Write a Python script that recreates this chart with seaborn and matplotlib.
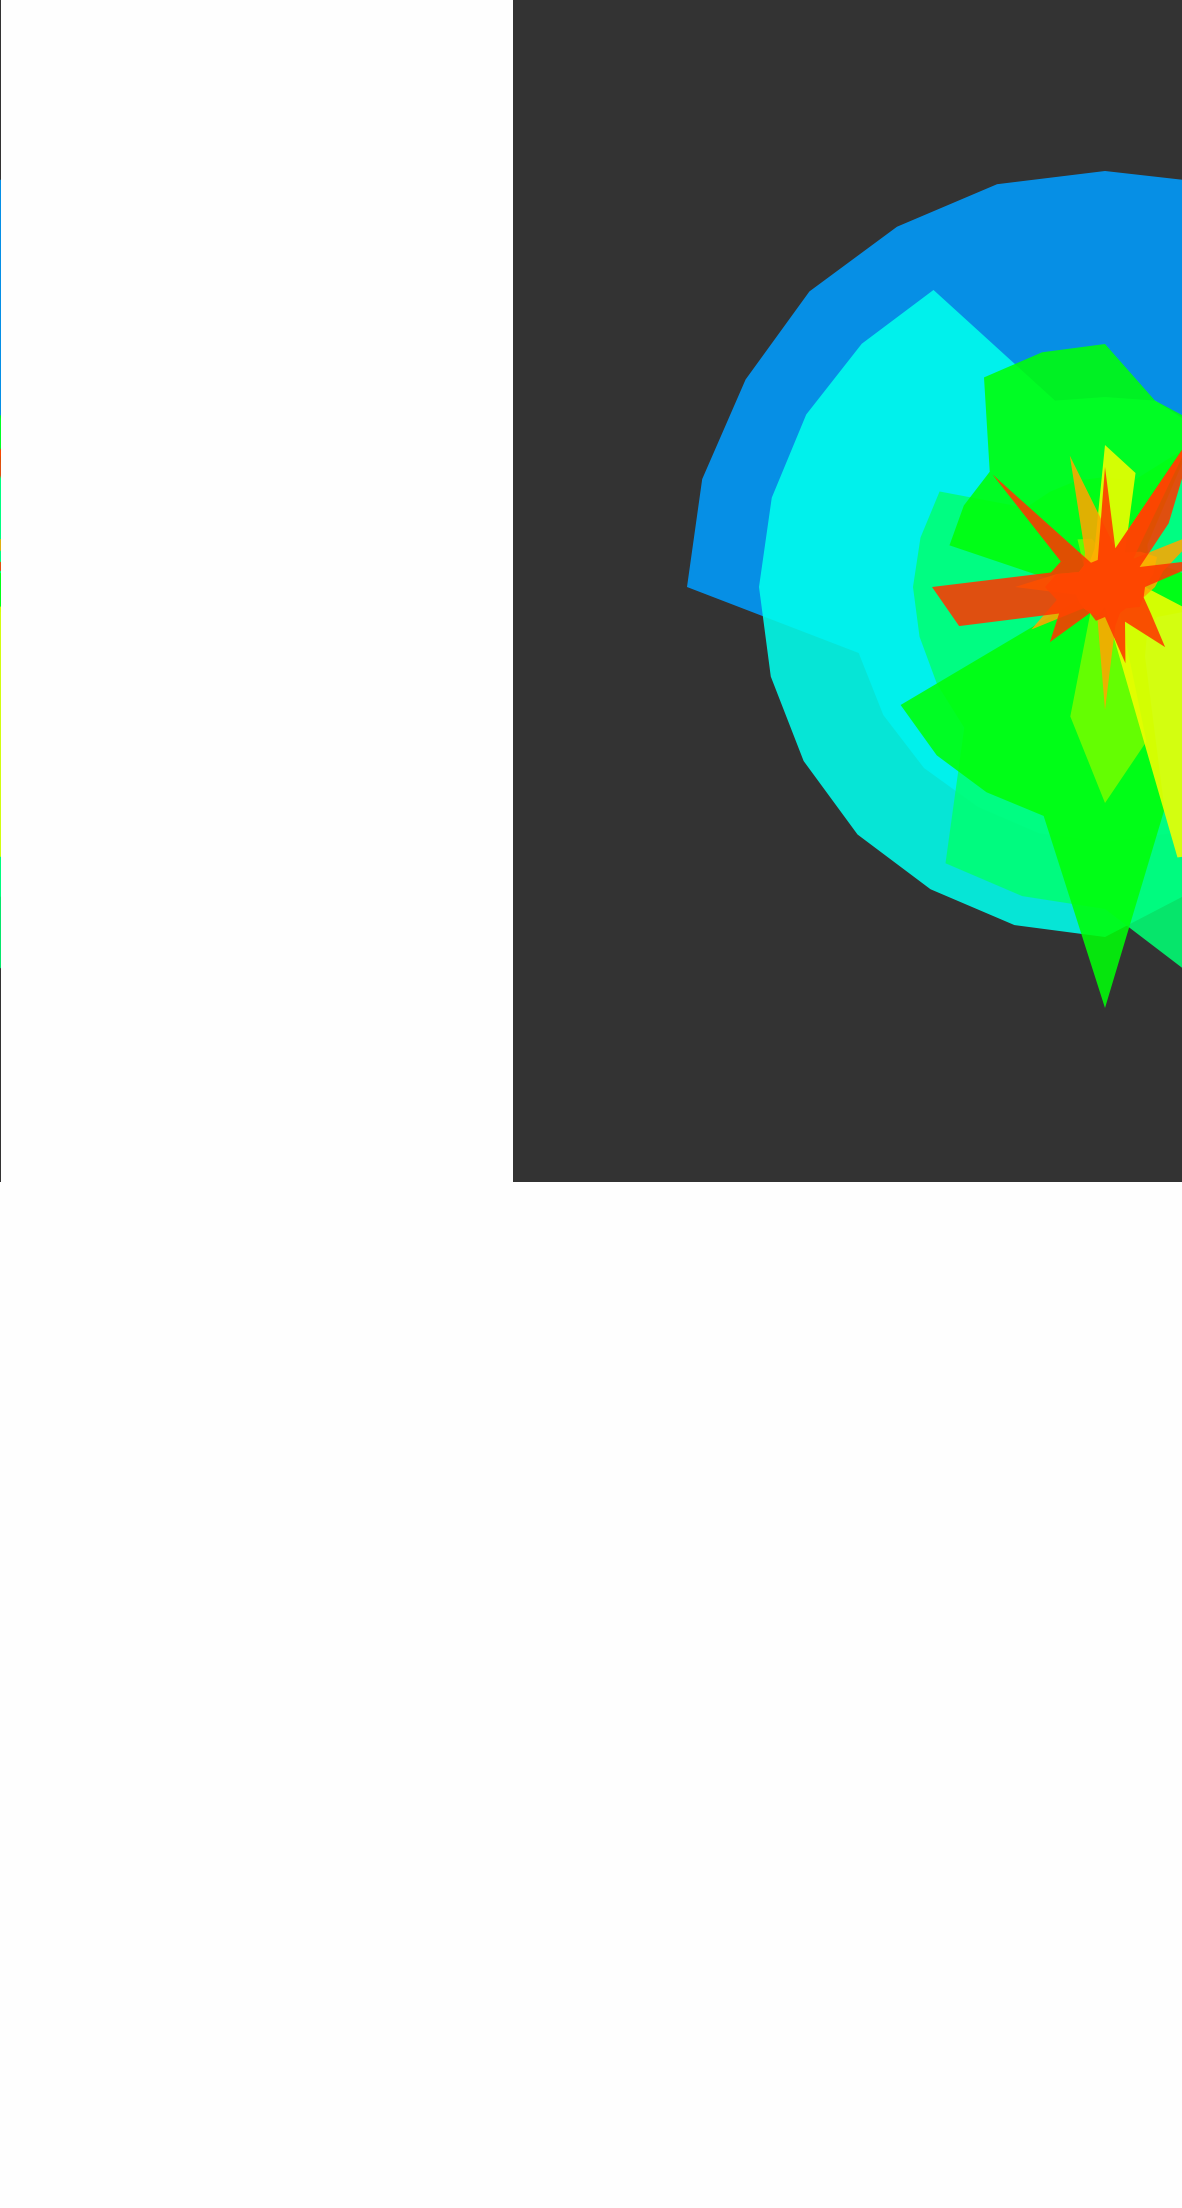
import colorsys

import numpy as np
import matplotlib
matplotlib.use("Agg")
import matplotlib.pyplot as plt
import seaborn as sns

# directions of the rose, degrees counter-clockwise from east
directions = [0, 15, 30, 45, 60, 75, 90, 105, 120, 135, 150, 165,
              180, 195, 210, 225, 240, 255, 270, 285, 300, 315, 330, 345]

# radius of every band per direction, bottom layer first
band_blue = [41.0, 41.0, 41.0, 41.3, 41.5, 41.8, 41.6, 41.7, 41.6, 41.8, 41.5, 41.7,
             41.8, 25.5, 25.6, 25.6, 25.4, 25.5, 25.5, 25.5, 26.0, 27.0, 30.0, 36.0]
band_cyan = [25.0, 22.0, 20.0, 19.0, 18.4, 19.3, 19.0, 19.3, 34.3, 34.4, 34.5, 34.5,
             34.6, 34.6, 34.8, 35.0, 34.9, 35.0, 35.0, 31.8, 31.0, 30.0, 29.0, 27.0]
band_spring = [14.0, 14.0, 15.0, 17.0, 16.0, 11.0, 11.0, 11.0, 11.0, 11.2, 19.1, 19.1,
               19.2, 19.2, 19.4, 19.9, 31.9, 32.0, 32.2, 41.9, 38.0, 32.0, 26.0, 20.0]
band_green = [11.0, 7.0, 5.0, 6.0, 18.8, 19.3, 24.3, 24.3, 24.2, 16.3, 16.3, 16.1,
              3.2, 1.0, 23.6, 23.8, 23.7, 23.7, 42.1, 23.0, 8.0, 6.0, 6.0, 9.0]
band_lime = [3.0, 3.0, 3.0, 3.0, 3.0, 3.0, 3.0, 5.0, 5.5, 3.0, 3.0, 3.0,
             3.0, 3.0, 3.0, 3.0, 2.9, 13.4, 21.6, 16.0, 3.0, 3.0, 3.0, 3.0]
band_yellow = [4.0, 5.0, 6.0, 5.0, 4.0, 11.8, 14.2, 4.0, 3.0, 3.0, 3.0, 5.0,
               9.0, 3.0, 3.0, 3.0, 3.0, 3.0, 2.0, 28.0, 30.0, 13.0, 11.0, 8.5]
band_orange = [5.0, 6.0, 11.0, 4.0, 17.5, 4.0, 6.0, 13.6, 4.0, 3.0, 3.0, 5.0,
               6.0, 5.0, 8.5, 3.0, 3.0, 3.0, 12.3, 4.0, 3.0, 3.0, 4.0, 4.0]
band_red = [4.0, 11.0, 4.0, 9.0, 18.5, 4.0, 12.0, 2.8, 2.8, 15.9, 5.1, 5.6,
            17.3, 15.1, 5.3, 7.8, 3.0, 3.5, 3.0, 7.9, 4.0, 8.5, 5.3, 4.0]

bands = [band_blue, band_cyan, band_spring, band_green,
         band_lime, band_yellow, band_orange, band_red]

sns.set_theme(style="dark")
palette = sns.color_palette([colorsys.hsv_to_rgb(h / 360, 1, 1)
                             for h in (203, 176, 147, 122, 93, 63, 39, 13)])

W, H = 1182, 2208
fig = plt.figure(figsize=(W / 100, H / 100), dpi=100, facecolor="#fefefe")

# dark panel and rose centre, in pixels from the top left
panel_left, panel_w, panel_h = 513, 670.3, 1182
cx, cy = 1105, 587
half = 600   # half size of the polar box in pixels
rmax = 60    # radius shown by that half size


def draw_panel(shift):
    bg = fig.add_axes([(panel_left - shift) / W, 1 - panel_h / H,
                       panel_w / W, panel_h / H])
    bg.set_facecolor("#333333")
    bg.set_xticks([])
    bg.set_yticks([])
    for s in bg.spines.values():
        s.set_visible(False)

    ax = fig.add_axes([(cx - shift - half) / W, 1 - (cy + half) / H,
                       2 * half / W, 2 * half / H], projection="polar")
    ax.set_ylim(0, rmax)
    ax.axis("off")
    theta = np.deg2rad(directions)
    for r, color in zip(bands, palette):
        for poly in ax.fill(theta, r, color=color, alpha=0.88, lw=0):
            poly.set_clip_path(bg.patch)


# the panel runs past the right edge and wraps round to the left edge
draw_panel(0)
draw_panel(W)

fig.savefig("out.png", dpi=100, facecolor=fig.get_facecolor())
